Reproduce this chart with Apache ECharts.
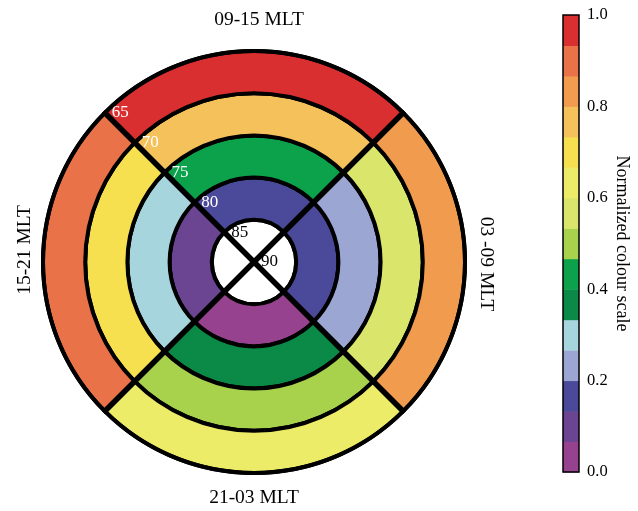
<!DOCTYPE html>
<html><head><meta charset="utf-8">
<script src="https://cdn.jsdelivr.net/npm/echarts@6/dist/echarts.min.js"></script>
<style>html,body{margin:0;padding:0;background:#fff}#c{width:638px;height:511px}</style>
</head><body><div id="c"></div><script>
// Sectors clockwise from the top (12 MLT at top)
const sectors = ['09-15 MLT', '03 -09 MLT', '21-03 MLT', '15-21 MLT'];
// Latitude rings, inner to outer
const ringLats = [[85, 90], [80, 85], [75, 80], [70, 75], [65, 70]];
const latLabels = ['90', '85', '80', '75', '70', '65'];
// Normalized values per ring, in sector order
const ring80_85 = [0.17, 0.17, 0.03, 0.10];
const ring75_80 = [0.43, 0.23, 0.37, 0.30];
const ring70_75 = [0.77, 0.57, 0.50, 0.70];
const ring65_70 = [0.97, 0.83, 0.63, 0.90];
// Discrete colour scale
const scaleBreaks = [0, 0.0667, 0.1333, 0.2, 0.2667, 0.3333, 0.4, 0.4667, 0.5333, 0.6, 0.6667, 0.7333, 0.8, 0.8667, 0.9333, 1.0];
const scaleColors = ['#96428e', '#6b4492', '#4b4a9a', '#9ba7d2', '#a7d5dd', '#0b8a47', '#0ca14b', '#a8d14c',
  '#d9e66b', '#ecec69', '#f6e04f', '#f5c15a', '#f09b4d', '#ea7249', '#d92f30'];
const scaleTicks = [0, 0.2, 0.4, 0.6, 0.8, 1.0];

const FONT = 'Liberation Serif';
const ringVals = [null, ring80_85, ring75_80, ring70_75, ring65_70];
const cx = 254, cy = 262, R = 211;

const polarSeries = ringLats.map((lat, k) => ({
  type: 'bar', coordinateSystem: 'polar', stack: 'rings',
  barCategoryGap: '0%',
  encode: { radius: 0, angle: 1 },
  data: sectors.map((s, i) => k === 0 ? [lat[1] - lat[0], s] : [lat[1] - lat[0], s, ringVals[k][i]]),
  itemStyle: Object.assign({ borderColor: '#000', borderWidth: 4 }, k === 0 ? { color: '#fff' } : {}),
  emphasis: { disabled: true },
  silent: true
}));

const labelFont = '19.5px ' + FONT;
const chart = echarts.init(document.getElementById('c'), null, { renderer: 'canvas' });
chart.setOption({
  animation: false,
  backgroundColor: '#fff',
  textStyle: { fontFamily: FONT },
  polar: { center: [cx, cy], radius: [0, R] },
  angleAxis: {
    type: 'category', data: sectors, startAngle: 135, clockwise: true, z: 10,
    axisLine: { show: true, lineStyle: { color: '#000', width: 4 } },
    axisTick: { show: false }, axisLabel: { show: false },
    splitLine: { show: true, lineStyle: { color: '#000', width: 5.5 } }
  },
  radiusAxis: {
    type: 'value', min: 0, max: 25, interval: 5, z: 11,
    axisLine: { show: false }, axisTick: { show: false }, splitLine: { show: false },
    axisLabel: {
      show: true, fontFamily: FONT, fontSize: 17, margin: 0,
      align: 'left', verticalAlign: 'middle', padding: [4, 0, 0, 7],
      formatter: (v, i) => latLabels[i],
      color: (v, i) => (v < 10 ? '#000' : '#fff')
    }
  },
  visualMap: {
    type: 'piecewise', show: false, dimension: 2, seriesIndex: [1, 2, 3, 4],
    pieces: scaleColors.map((c, i) => ({ min: scaleBreaks[i], max: scaleBreaks[i + 1], color: c }))
  },
  grid: { left: 563, top: 15, width: 16, height: 457 },
  xAxis: { type: 'category', data: ['c'], show: false },
  yAxis: {
    type: 'value', min: 0, max: 1, interval: 0.2, position: 'right',
    axisLine: { show: false }, axisTick: { show: false }, splitLine: { show: false },
    axisLabel: { margin: 8, fontFamily: FONT, fontSize: 16.5, color: '#000', formatter: v => v.toFixed(1) },
    name: 'Normalized colour scale', nameLocation: 'middle', nameRotate: -90, nameGap: 34,
    nameTextStyle: { fontFamily: FONT, fontSize: 18, color: '#000' }
  },
  series: polarSeries.concat([
    {
      type: 'custom', xAxisIndex: 0, yAxisIndex: 0, silent: true,
      data: scaleColors.map((c, i) => [0, scaleBreaks[i], scaleBreaks[i + 1], i]),
      renderItem: (params, api) => {
        const cs = params.coordSys;
        const y0 = api.coord([0, api.value(1)])[1];
        const y1 = api.coord([0, api.value(2)])[1];
        return { type: 'rect', shape: { x: cs.x, y: y1, width: cs.width, height: y0 - y1 + 0.5 },
          style: { fill: scaleColors[api.value(3)] } };
      }
    },
    {
      type: 'custom', xAxisIndex: 0, yAxisIndex: 0, silent: true, z: 5,
      data: [[0, scaleTicks[0], scaleTicks[scaleTicks.length - 1]]],
      renderItem: (params, api) => {
        const cs = params.coordSys;
        const y0 = api.coord([0, api.value(1)])[1];
        const y1 = api.coord([0, api.value(2)])[1];
        return { type: 'rect', shape: { x: cs.x, y: y1, width: cs.width, height: y0 - y1 },
          style: { fill: 'none', stroke: '#000', lineWidth: 1.5 } };
      }
    }
  ]),
  graphic: [
    { type: 'text', x: 259, y: 20, style: { text: sectors[0], font: labelFont, fill: '#000', align: 'center', verticalAlign: 'middle' } },
    { type: 'text', x: 486, y: 264, rotation: -Math.PI / 2, style: { text: sectors[1], font: labelFont, fill: '#000', align: 'center', verticalAlign: 'middle' } },
    { type: 'text', x: 254, y: 498, style: { text: sectors[2], font: labelFont, fill: '#000', align: 'center', verticalAlign: 'middle' } },
    { type: 'text', x: 25, y: 250, rotation: Math.PI / 2, style: { text: sectors[3], font: labelFont, fill: '#000', align: 'center', verticalAlign: 'middle' } }
  ]
});
</script></body></html>
